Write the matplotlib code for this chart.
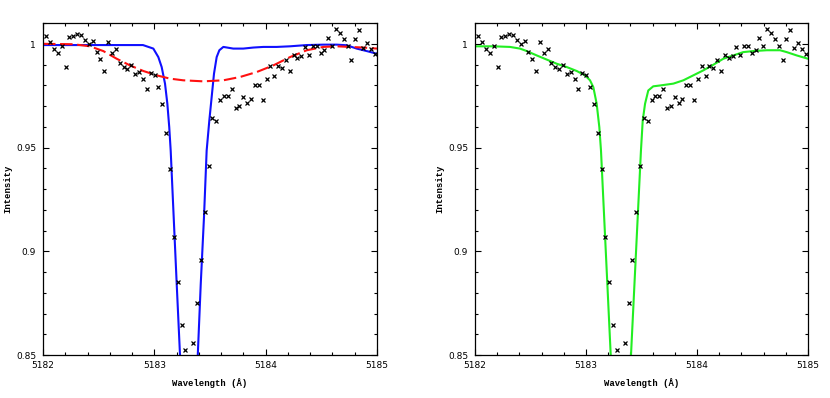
#!/usr/bin/env python3
"""Spectral line fit: observed points vs. model profiles (two panels)."""
import matplotlib
matplotlib.use("Agg")
import matplotlib.pyplot as plt
from matplotlib.ticker import MultipleLocator, FuncFormatter

# observed spectrum (shared by both panels)
obs_wave = [
    5182.030, 5182.065, 5182.099, 5182.134, 5182.169, 5182.204, 5182.238, 5182.273,
    5182.308, 5182.342, 5182.377, 5182.412, 5182.446, 5182.481, 5182.516, 5182.551,
    5182.585, 5182.620, 5182.655, 5182.689, 5182.724, 5182.759, 5182.793, 5182.828,
    5182.863, 5182.898, 5182.932, 5182.967, 5183.002, 5183.036, 5183.071, 5183.106,
    5183.140, 5183.175, 5183.210, 5183.245, 5183.279, 5183.314, 5183.349, 5183.383,
    5183.418, 5183.453, 5183.487, 5183.522, 5183.557, 5183.592, 5183.626, 5183.661,
    5183.696, 5183.730, 5183.765, 5183.800, 5183.834, 5183.869, 5183.904, 5183.939,
    5183.973, 5184.008, 5184.043, 5184.077, 5184.112, 5184.147, 5184.181, 5184.216,
    5184.251, 5184.286, 5184.320, 5184.355, 5184.390, 5184.424, 5184.459, 5184.494,
    5184.528, 5184.563, 5184.598, 5184.633, 5184.667, 5184.702, 5184.737, 5184.771,
    5184.806, 5184.841, 5184.875, 5184.910, 5184.945, 5184.980,
]
obs_flux = [
    1.0037, 1.0012, 0.9978, 0.9958, 0.9990, 0.9891, 1.0032, 1.0039,
    1.0048, 1.0042, 1.0021, 1.0000, 1.0016, 0.9960, 0.9928, 0.9868,
    1.0010, 0.9958, 0.9976, 0.9907, 0.9889, 0.9879, 0.9897, 0.9855,
    0.9865, 0.9833, 0.9785, 0.9858, 0.9850, 0.9792, 0.9712, 0.9570,
    0.9398, 0.9068, 0.8852, 0.8647, 0.8524, 0.8430, 0.8557, 0.8751,
    0.8958, 0.9192, 0.9413, 0.9644, 0.9628, 0.9728, 0.9751, 0.9747,
    0.9785, 0.9693, 0.9700, 0.9744, 0.9714, 0.9733, 0.9802, 0.9804,
    0.9731, 0.9829, 0.9892, 0.9845, 0.9892, 0.9886, 0.9921, 0.9868,
    0.9947, 0.9934, 0.9944, 0.9986, 0.9945, 0.9990, 0.9990, 0.9958,
    0.9973, 1.0031, 0.9990, 1.0074, 1.0053, 1.0026, 0.9990, 0.9925,
    1.0024, 1.0068, 0.9983, 1.0007, 0.9978, 0.9952,
]

# left panel: narrow model (blue)
blue_wave = [
    5182.000, 5182.898, 5182.991, 5183.036, 5183.066, 5183.096, 5183.117, 5183.134,
    5183.147, 5183.174, 5183.201, 5183.231, 5183.266, 5183.311, 5183.356, 5183.390,
    5183.417, 5183.446, 5183.470, 5183.494, 5183.515, 5183.536, 5183.560, 5183.584,
    5183.620, 5183.709, 5183.799, 5183.889, 5183.979, 5184.099, 5184.219, 5184.369,
    5184.518, 5184.638, 5184.728, 5184.818, 5184.908, 5185.000,
]
blue_flux = [
    0.9995, 0.9995, 0.9978, 0.9937, 0.9889, 0.9809, 0.9712, 0.9599,
    0.9486, 0.9164, 0.8843, 0.8496, 0.8086, 0.7800, 0.8086, 0.8496,
    0.8843, 0.9164, 0.9486, 0.9631, 0.9744, 0.9857, 0.9937, 0.9970,
    0.9986, 0.9978, 0.9978, 0.9983, 0.9986, 0.9986, 0.9989, 0.9995,
    0.9997, 0.9997, 0.9994, 0.9978, 0.9966, 0.9953,
]

# left panel: broad model (red, dashed)
red_wave = [
    5182.000, 5182.272, 5182.422, 5182.542, 5182.662, 5182.781, 5182.901, 5183.021,
    5183.141, 5183.260, 5183.440, 5183.620, 5183.770, 5183.920, 5184.069, 5184.219,
    5184.369, 5184.518, 5184.638, 5184.758, 5184.877, 5185.000,
]
red_flux = [
    1.0001, 0.9999, 0.9989, 0.9966, 0.9929, 0.9897, 0.9870, 0.9849,
    0.9833, 0.9825, 0.9820, 0.9825, 0.9841, 0.9865, 0.9897, 0.9937,
    0.9970, 0.9986, 0.9989, 0.9986, 0.9983, 0.9978,
]

# right panel: combined model (green)
green_wave = [
    5182.000, 5182.165, 5182.315, 5182.405, 5182.466, 5182.556, 5182.646, 5182.736,
    5182.826, 5182.916, 5182.991, 5183.036, 5183.066, 5183.096, 5183.120, 5183.135,
    5183.223, 5183.261, 5183.311, 5183.360, 5183.405, 5183.495, 5183.511, 5183.532,
    5183.561, 5183.606, 5183.667, 5183.787, 5183.877, 5183.967, 5184.057, 5184.147,
    5184.237, 5184.327, 5184.417, 5184.507, 5184.628, 5184.748, 5184.808, 5184.898,
    5185.000,
]
green_flux = [
    0.9989, 0.9989, 0.9986, 0.9978, 0.9966, 0.9945, 0.9925, 0.9905,
    0.9889, 0.9870, 0.9849, 0.9825, 0.9792, 0.9712, 0.9599, 0.9486,
    0.8496, 0.8086, 0.7800, 0.8086, 0.8496, 0.9486, 0.9631, 0.9712,
    0.9776, 0.9796, 0.9800, 0.9809, 0.9825, 0.9849, 0.9873, 0.9900,
    0.9929, 0.9945, 0.9961, 0.9966, 0.9970, 0.9970, 0.9961, 0.9945,
    0.9929,
]

XLIM = (5182, 5185)
YLIM = (0.85, 1.0101)
LABEL_FONT = dict(family="Liberation Mono", weight="bold", size=6.4)


def style_axes(ax):
    ax.set_xlim(*XLIM)
    ax.set_ylim(*YLIM)
    ax.xaxis.set_major_locator(MultipleLocator(1))
    ax.xaxis.set_minor_locator(MultipleLocator(0.2))
    ax.yaxis.set_major_locator(MultipleLocator(0.05))
    ax.yaxis.set_minor_locator(MultipleLocator(0.01))
    ax.xaxis.set_major_formatter(FuncFormatter(lambda v, p: f"{v:g}"))
    ax.yaxis.set_major_formatter(FuncFormatter(lambda v, p: f"{v:g}"))
    ax.tick_params(which="both", direction="in", top=True, right=True,
                   width=0.8, labelsize=6.5, colors="black")
    ax.tick_params(which="major", length=4)
    ax.tick_params(which="minor", length=2.2)
    ax.tick_params(axis="x", pad=4)
    ax.tick_params(axis="y", pad=5)
    for s in ax.spines.values():
        s.set_linewidth(0.9)
    ax.set_xlabel("Wavelength (Å)", **LABEL_FONT)
    ax.set_ylabel("Intensity", **LABEL_FONT)
    ax.xaxis.set_label_coords(0.5, -0.068)
    ax.yaxis.set_label_coords(-0.092, 0.5)


fig = plt.figure(figsize=(8.3, 3.98), dpi=100)
ax1 = fig.add_axes([0.0518, 0.108, 0.4024, 0.834])
ax2 = fig.add_axes([0.5723, 0.108, 0.4012, 0.834])

mk = dict(linestyle="none", marker="x", markersize=2.6, markeredgewidth=0.9,
          color="black", zorder=3)

ax1.plot(obs_wave, obs_flux, **mk)
ax1.plot(blue_wave, blue_flux, color="#1010ff", linewidth=1.5, zorder=2)
ax1.plot(red_wave, red_flux, color="#ff1010", linewidth=1.5,
         dashes=(6, 2.2), zorder=2)
style_axes(ax1)

ax2.plot(obs_wave, obs_flux, **mk)
ax2.plot(green_wave, green_flux, color="#22ee22", linewidth=1.5, zorder=2)
style_axes(ax2)

fig.savefig("out.png", dpi=100)
